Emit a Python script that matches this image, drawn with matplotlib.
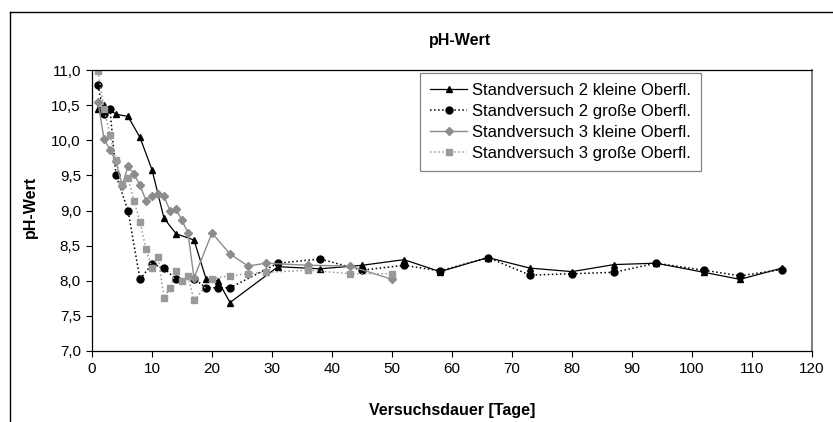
import matplotlib.pyplot as plt
from matplotlib.ticker import MultipleLocator, FuncFormatter
from matplotlib.lines import Line2D

plt.rcParams['font.family'] = ['Liberation Sans', 'DejaVu Sans']

# Standversuch 2 kleine Oberfl.
x_s2k = [1, 2, 4, 6, 8, 10, 12, 14, 17, 19, 21, 23, 31, 38, 45, 52, 58, 66, 73, 80, 87, 94, 102, 108, 115]
y_s2k = [10.44, 10.50, 10.37, 10.34, 10.04, 9.58, 8.89, 8.67, 8.58, 8.03, 8.00, 7.69, 8.20, 8.17, 8.22,
         8.30, 8.13, 8.33, 8.18, 8.13, 8.23, 8.25, 8.12, 8.02, 8.18]

# Standversuch 2 grosse Oberfl.
x_s2g = [1, 2, 3, 4, 6, 8, 10, 12, 14, 17, 19, 21, 23, 31, 38, 45, 52, 58, 66, 73, 80, 87, 94, 102, 108, 115]
y_s2g = [10.78, 10.37, 10.44, 9.50, 9.00, 8.02, 8.24, 8.18, 8.02, 8.03, 7.90, 7.90, 7.90, 8.25, 8.31,
         8.15, 8.22, 8.14, 8.33, 8.08, 8.10, 8.12, 8.25, 8.15, 8.07, 8.16]

# Standversuch 3 kleine Oberfl.
x_s3k = [1, 2, 3, 4, 5, 6, 7, 8, 9, 10, 11, 12, 13, 14, 15, 16, 17, 20, 23, 26, 29, 36, 43, 50]
y_s3k = [10.54, 10.02, 9.86, 9.70, 9.35, 9.63, 9.52, 9.36, 9.14, 9.21, 9.23, 9.20, 9.00, 9.02, 8.86,
         8.68, 8.04, 8.68, 8.38, 8.21, 8.25, 8.22, 8.21, 8.02]

# Standversuch 3 grosse Oberfl.
x_s3g = [1, 2, 3, 4, 5, 6, 7, 8, 9, 10, 11, 12, 13, 14, 15, 16, 17, 20, 23, 26, 29, 36, 43, 50]
y_s3g = [10.98, 10.45, 10.07, 9.72, 9.38, 9.46, 9.14, 8.84, 8.45, 8.18, 8.34, 7.76, 7.89, 8.14, 8.00,
         8.07, 7.72, 8.03, 8.07, 8.10, 8.12, 8.15, 8.10, 8.10]

W, H = 833, 422
fig = plt.figure(figsize=(W / 100, H / 100), dpi=100)
ax = fig.add_axes([92 / W, 71 / H, 720 / W, 281 / H])

ax.plot(x_s2k, y_s2k, '-', color='black', lw=0.9, marker='^', ms=5,
        label='Standversuch 2 kleine Oberfl.')
ax.plot(x_s2g, y_s2g, ':', color='black', lw=1.1, marker='o', ms=5,
        label='Standversuch 2 große Oberfl.')
ax.plot(x_s3k, y_s3k, '-', color='#8c8c8c', lw=1.0, marker='D', ms=3.8,
        label='Standversuch 3 kleine Oberfl.')
ax.plot(x_s3g, y_s3g, ':', color='#999999', lw=1.1, marker='s', ms=5,
        label='Standversuch 3 große Oberfl.')

ax.set_xlim(0, 120)
ax.set_ylim(7.0, 11.0)
ax.xaxis.set_major_locator(MultipleLocator(10))
ax.yaxis.set_major_locator(MultipleLocator(0.5))
ax.yaxis.set_major_formatter(FuncFormatter(lambda v, p: f"{v:.1f}".replace('.', ',')))
ax.tick_params(direction='out', length=4, width=0.8, labelsize=11, colors='black', pad=4)

for s in ['left', 'bottom', 'top']:
    ax.spines[s].set_color('black')
    ax.spines[s].set_linewidth(0.9)
ax.spines['right'].set_color('#666666')
ax.spines['right'].set_linewidth(1.2)

fig.text(460 / W, 1 - 40 / H, 'pH-Wert', fontsize=11.5, fontweight='bold', ha='center', va='center')
fig.text(452 / W, 1 - 410 / H, 'Versuchsdauer [Tage]', fontsize=11.5, fontweight='bold',
         ha='center', va='center')
fig.text(30 / W, 1 - 207 / H, 'pH-Wert', fontsize=11.5, fontweight='bold', rotation=90,
         ha='center', va='center')

leg = ax.legend(loc='upper left', bbox_to_anchor=(328 / 720, 0.99), fontsize=12, frameon=True,
                fancybox=False, edgecolor='#666666', handlelength=2.2, borderpad=0.62,
                labelspacing=0.36, handletextpad=0.3, borderaxespad=0)
leg.get_frame().set_linewidth(0.9)

# outer chart border (cut off at right and bottom)
fig.add_artist(Line2D([10 / W, 1.0], [1 - 12 / H, 1 - 12 / H], color='black', lw=1.0,
                      transform=fig.transFigure))
fig.add_artist(Line2D([10 / W, 10 / W], [0.0, 1 - 12 / H], color='black', lw=1.0,
                      transform=fig.transFigure))

fig.savefig('out.png', dpi=100)
